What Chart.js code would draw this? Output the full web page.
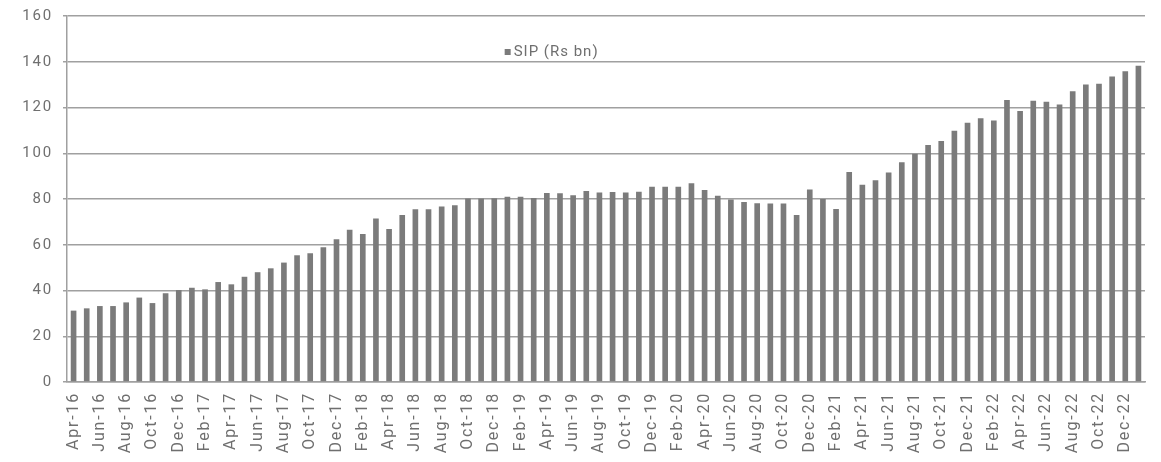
<!DOCTYPE html>
<html>
<head>
<meta charset="utf-8">
<title>SIP (Rs bn)</title>
<script src="https://cdn.jsdelivr.net/npm/chart.js@4.4.1/dist/chart.umd.min.js"></script>
<style>
  html, body { margin: 0; padding: 0; background: #ffffff; }
  #wrap { width: 1161px; height: 462px; }
</style>
</head>
<body>
<div id="wrap"><canvas id="chart" width="1161" height="462"></canvas></div>
<script>
// Monthly SIP inflows, Rs bn
const months = [
  'Apr-16','May-16','Jun-16','Jul-16','Aug-16','Sep-16','Oct-16','Nov-16','Dec-16',
  'Jan-17','Feb-17','Mar-17','Apr-17','May-17','Jun-17','Jul-17','Aug-17','Sep-17','Oct-17','Nov-17','Dec-17',
  'Jan-18','Feb-18','Mar-18','Apr-18','May-18','Jun-18','Jul-18','Aug-18','Sep-18','Oct-18','Nov-18','Dec-18',
  'Jan-19','Feb-19','Mar-19','Apr-19','May-19','Jun-19','Jul-19','Aug-19','Sep-19','Oct-19','Nov-19','Dec-19',
  'Jan-20','Feb-20','Mar-20','Apr-20','May-20','Jun-20','Jul-20','Aug-20','Sep-20','Oct-20','Nov-20','Dec-20',
  'Jan-21','Feb-21','Mar-21','Apr-21','May-21','Jun-21','Jul-21','Aug-21','Sep-21','Oct-21','Nov-21','Dec-21',
  'Jan-22','Feb-22','Mar-22','Apr-22','May-22','Jun-22','Jul-22','Aug-22','Sep-22','Oct-22','Nov-22','Dec-22',
  'Jan-23'
];

const sipValues = [
  31.2, 32.2, 33.2, 33.2, 34.8, 36.9, 34.5, 38.8, 40.2,
  41.2, 40.5, 43.7, 42.7, 46.0, 48.0, 49.7, 52.2, 55.4, 56.3, 58.9, 62.4,
  66.6, 64.7, 71.5, 66.9, 73.0, 75.5, 75.5, 76.7, 77.3, 80.2, 80.2, 80.3,
  81.0, 81.0, 80.4, 82.6, 82.5, 81.6, 83.5, 82.8, 83.1, 82.8, 83.2, 85.4,
  85.4, 85.4, 86.9, 83.9, 81.4, 79.8, 78.7, 78.1, 78.0, 78.0, 73.0, 84.2,
  80.0, 75.6, 91.8, 86.2, 88.2, 91.6, 96.1, 99.8, 103.6, 105.4, 109.8, 113.3,
  115.3, 114.3, 123.3, 118.5, 123.0, 122.5, 121.3, 127.1, 130.1, 130.4, 133.5, 135.8,
  138.3
];

const seriesName = 'SIP (Rs bn)';
const yTicks = [0, 20, 40, 60, 80, 100, 120, 140, 160];

const textColor = '#6f6f6f';
const barColor = '#7b7b7b';
const gridColor = '#a0a0a0';
const fontFamily = 'Roboto, "Open Sans", "DejaVu Sans", sans-serif';
const tracking = '1.8px';

// Slightly tracked-out lettering for the axis labels
const tracked = {
  id: 'tracked',
  beforeDraw(chart) { chart.ctx.letterSpacing = tracking; }
};

// Legend drawn inside the plot area, near the top
const insideLegend = {
  id: 'insideLegend',
  afterDraw(chart) {
    const { ctx, chartArea } = chart;
    const ds = chart.data.datasets[0];
    const x = chartArea.left + 0.406 * (chartArea.right - chartArea.left);
    const y = chartArea.top + 36;
    ctx.save();
    ctx.letterSpacing = '1px';
    ctx.fillStyle = ds.backgroundColor;
    ctx.fillRect(x, y - 3, 6, 6);
    ctx.fillStyle = textColor;
    ctx.font = '15px ' + fontFamily;
    ctx.textBaseline = 'middle';
    ctx.textAlign = 'left';
    ctx.fillText(ds.label, x + 9, y);
    ctx.restore();
  }
};

new Chart(document.getElementById('chart'), {
  type: 'bar',
  data: {
    labels: months,
    datasets: [{
      label: seriesName,
      data: sipValues,
      backgroundColor: barColor,
      borderWidth: 0,
      categoryPercentage: 1.0,
      barPercentage: 0.43
    }]
  },
  options: {
    responsive: false,
    animation: false,
    layout: { padding: { top: 16, right: 16, bottom: 0, left: 0 } },
    plugins: {
      legend: { display: false },
      tooltip: { enabled: false }
    },
    scales: {
      x: {
        grid: { display: false, drawTicks: false },
        border: { display: true, color: gridColor, width: 1.5 },
        ticks: {
          autoSkip: false,
          minRotation: 90,
          maxRotation: 90,
          padding: 10,
          color: textColor,
          font: { family: fontFamily, size: 16 },
          callback: (v, i) => (i % 2 === 0 ? months[i] : '')
        },
        afterFit: (s) => {
          s.height = 80;
          s.paddingLeft = 0;
          s.paddingRight = 0;
        }
      },
      y: {
        min: yTicks[0],
        max: yTicks[yTicks.length - 1],
        afterBuildTicks: (s) => { s.ticks = yTicks.map(v => ({ value: v })); },
        grid: { color: gridColor, lineWidth: 1.5, tickLength: 4, drawTicks: true },
        border: { display: true, color: gridColor, width: 1.5 },
        ticks: {
          padding: 10,
          color: textColor,
          font: { family: fontFamily, size: 15 }
        },
        afterFit: (s) => {
          s.width = 67;
          s.paddingTop = 0;
          s.paddingBottom = 0;
        }
      }
    }
  },
  plugins: [tracked, insideLegend]
});
</script>
</body>
</html>
